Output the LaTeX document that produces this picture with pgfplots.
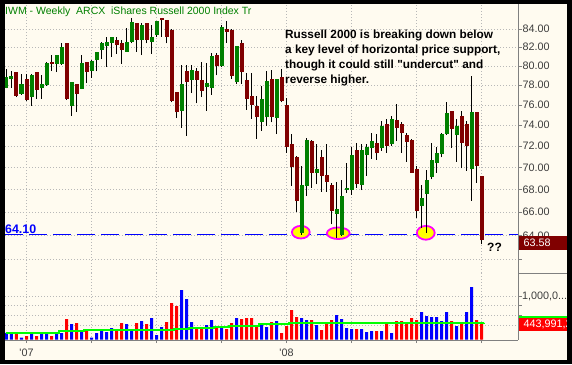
\documentclass[border=0pt]{standalone}
\usepackage{fontspec}
\setmainfont{Liberation Sans}[Ligatures=TeXOff]
\usepackage{pgfplots}
\usepackage{pgfplotstable}
\pgfplotsset{compat=1.18}
\definecolor{cream}{HTML}{FFFBF0}
\definecolor{upgreen}{HTML}{008000}
\definecolor{dnred}{HTML}{800000}
\definecolor{volblue}{HTML}{0000FF}
\definecolor{volred}{HTML}{FF0000}
\definecolor{ringmag}{HTML}{FF00FF}
\definecolor{ringyel}{HTML}{FFFF00}
\definecolor{magreen}{HTML}{00FF00}
\definecolor{gridgray}{HTML}{B8B8B8}
\definecolor{axgray}{HTML}{808080}
\definecolor{lblgray}{HTML}{3C3C3C}
\definecolor{suppblue}{HTML}{0000FF}

\pgfplotstableread{
i O H L C
0 77.75 79.73 77.70 78.85
1 78.65 79.45 77.75 78.93
2 79.37 79.40 76.79 76.96
3 77.13 79.20 77.06 78.16
4 78.68 79.20 76.45 76.52
5 76.79 79.20 75.95 79.03
6 79.37 79.40 76.62 77.54
7 77.70 79.03 76.62 78.16
8 77.99 80.43 77.95 80.33
9 80.43 81.15 79.48 80.26
10 80.26 81.20 79.37 81.15
11 80.19 82.42 80.15 82.05
12 82.42 82.45 76.52 76.62
13 75.95 78.35 74.94 78.33
14 78.09 78.16 75.28 77.13
15 77.65 81.15 77.60 80.33
16 80.43 80.45 78.24 79.37
17 79.48 80.62 78.80 80.55
18 80.62 81.51 79.45 81.51
19 81.69 82.60 80.69 82.49
20 82.13 83.15 79.90 82.60
21 82.49 83.15 80.97 83.08
22 82.78 83.15 81.30 82.24
23 82.42 82.78 80.26 81.69
24 81.51 84.08 81.51 82.60
25 82.60 85.20 82.42 84.82
26 84.70 84.70 81.51 82.78
27 82.78 84.64 81.15 84.45
28 84.64 84.70 82.42 82.78
29 82.60 84.45 81.30 83.15
30 83.34 84.93 83.15 84.93
31 85.20 85.20 83.15 84.95
32 85.00 85.00 82.42 83.15
33 83.89 83.95 76.28 76.45
34 77.30 77.30 74.70 75.27
35 75.44 80.08 73.76 78.09
36 79.48 80.08 72.98 78.33
37 78.56 80.08 77.20 79.63
38 79.45 79.80 76.18 78.56
39 78.53 80.43 76.79 77.47
40 77.83 80.33 75.44 78.24
41 77.75 81.33 77.06 81.04
42 81.15 81.40 79.03 79.98
43 79.98 84.45 79.90 84.26
44 83.97 84.93 82.49 83.70
45 83.89 83.95 78.68 78.93
46 78.33 82.15 78.16 82.13
47 82.49 82.78 78.16 79.37
48 78.51 79.27 75.51 76.62
49 76.96 79.27 74.62 76.05
50 75.95 76.96 72.69 74.84
51 74.28 77.90 73.47 76.62
52 74.77 79.48 73.96 78.44
53 78.68 79.56 74.28 74.84
54 74.71 78.70 73.15 78.68
55 78.85 79.73 76.28 76.38
56 76.05 76.72 71.38 71.93
57 72.19 73.15 68.30 70.05
58 70.98 71.08 65.98 66.98
59 64.22 70.15 64.08 68.39
60 68.30 72.75 67.40 72.57
61 72.50 72.55 68.15 69.52
62 69.52 72.20 68.46 69.83
63 70.92 71.62 67.80 69.23
64 69.30 72.22 67.80 68.70
65 68.39 68.62 64.95 66.10
66 65.87 68.70 63.78 66.25
67 64.08 68.83 63.95 67.42
68 67.97 70.37 67.72 68.15
69 67.93 71.88 67.50 71.17
70 71.62 72.28 68.15 68.46
71 68.39 72.20 67.93 71.62
72 71.17 72.20 69.23 71.93
73 71.77 73.30 70.77 72.50
74 72.33 73.15 70.71 71.30
75 71.77 74.45 71.55 73.96
76 74.12 74.62 71.38 72.03
77 72.19 74.94 72.03 74.62
78 74.52 76.12 72.50 73.74
79 74.12 74.35 71.38 73.21
80 73.08 73.30 70.54 72.43
81 72.57 72.70 69.52 69.52
82 69.83 70.15 65.50 66.10
83 66.54 68.39 64.65 67.27
84 67.63 69.75 64.22 68.83
85 69.12 72.33 68.92 70.68
86 70.45 71.91 69.52 71.38
87 71.24 73.30 70.92 73.15
88 73.15 76.28 73.08 75.17
89 75.37 75.40 71.80 73.67
90 73.10 74.62 70.54 73.89
91 74.94 75.44 69.92 72.33
92 74.12 74.45 69.68 72.03
93 69.83 78.93 66.98 75.27
94 75.27 75.30 68.62 70.15
95 69.21 69.25 63.25 63.58
}\ohlc

\pgfplotstableread{
i v up
0 167 1
1 167 1
2 167 0
3 50 1
4 83 0
5 183 1
6 83 0
7 183 1
8 158 1
9 83 0
10 158 1
11 158 1
12 508 0
13 383 1
14 408 0
15 208 1
16 208 0
17 50 1
18 158 1
19 233 1
20 183 1
21 283 1
22 258 0
23 408 0
24 383 1
25 208 1
26 408 0
27 458 1
28 383 0
29 533 1
30 108 1
31 308 1
32 433 0
33 908 0
34 833 0
35 1233 1
36 1008 1
37 433 1
38 283 0
39 258 0
40 358 1
41 483 1
42 333 0
43 283 1
44 258 0
45 408 0
46 533 1
47 508 0
48 533 0
49 533 0
50 358 0
51 408 1
52 308 1
53 433 0
54 458 1
55 158 0
56 333 0
57 733 0
58 558 0
59 533 1
60 483 1
61 483 0
62 358 1
63 233 0
64 408 0
65 483 0
66 608 1
67 508 1
68 283 1
69 258 1
70 258 0
71 258 1
72 183 1
73 208 1
74 208 0
75 208 1
76 383 0
77 158 1
78 458 0
79 458 0
80 408 0
81 533 0
82 483 0
83 683 1
84 583 1
85 558 1
86 558 1
87 458 1
88 683 1
89 458 0
90 333 1
91 433 0
92 683 1
93 1308 1
94 483 0
95 433 0
}\vol

\pgfplotsset{
  chartbase/.style={
    scale only axis, anchor=south west, width=513pt,
    xmin=-0.3, xmax=102.3,
    axis line style={draw=none},
    xtick={4,17,30,43,56,69,82,95},
    grid=major,
    major grid style={draw=gridgray, line width=0.8pt, dash pattern=on 0.9pt off 2.1pt},
    tick align=outside,
    ytick pos=right, yticklabel pos=right,
    ytick style={draw=axgray, line width=0.8pt},
    yticklabel style={font=\fontsize{10.8}{12}\selectfont, text=lblgray, anchor=west, inner sep=0pt, xshift=0.5pt},
  },
  candle/.style={draw=none, no marks, forget plot,
    error bars/.cd, y dir=plus, y explicit, error mark=none,
    error bar style={draw=#1, line width=4pt, line cap=butt}},
}

\begin{document}
\begin{tikzpicture}
\fill[black] (0pt,0pt) rectangle (572pt,364pt);
\useasboundingbox (0pt,0pt) rectangle (572pt,364pt);
\fill[cream] (5pt,4pt) rectangle (567pt,360pt);

% ---------------- price panel ----------------
\begin{axis}[chartbase, at={(5pt,91pt)}, height=269pt,
  ymode=log, ymin=60.92, ymax=86.81,
  xticklabels={}, xtick style={draw=none},
  ytick={62,64,66,68,70,72,74,76,78,80,82,84},
  yticklabels={,64.00,66.00,68.00,70.00,72.00,74.00,76.00,78.00,80.00,82.00,84.00},
  major tick length=4pt]
\addplot[suppblue, line width=1pt, dash pattern=on 17.7pt off 6.3pt, forget plot]
  coordinates {(-0.3,64.1) (102.3,64.1)};
% highlight rings around the three lows (drawn beneath the candles)
\draw[fill=ringyel, draw=ringmag, line width=1.8pt]
  (axis cs:58.86,64.28) ellipse [x radius=8.9pt, y radius=6.3pt];
\draw[fill=ringyel, draw=ringmag, line width=1.8pt]
  (axis cs:66.36,64.19) ellipse [x radius=11.4pt, y radius=5.8pt];
\draw[fill=ringyel, draw=ringmag, line width=1.8pt]
  (axis cs:83.86,64.23) ellipse [x radius=8.9pt, y radius=6.9pt];
% wicks (low to high)
\addplot[draw=none, no marks, forget plot,
  error bars/.cd, y dir=plus, y explicit, error mark=none,
  error bar style={draw=black, line width=1.8pt, line cap=butt}]
  table[x=i, y=L, y error expr=\thisrow{H}-\thisrow{L}] {\ohlc};
% up bodies (open to close)
\addplot[candle=upgreen]
  table[x expr={\thisrow{C}>=\thisrow{O} ? \thisrow{i} : nan}, y=O,
        y error expr=\thisrow{C}-\thisrow{O}] {\ohlc};
% down bodies (close to open)
\addplot[candle=dnred]
  table[x expr={\thisrow{C}<\thisrow{O} ? \thisrow{i} : nan}, y=C,
        y error expr=\thisrow{O}-\thisrow{C}] {\ohlc};
\end{axis}

% ---------------- volume panel ----------------
\begin{axis}[chartbase, at={(5pt,24.5pt)}, height=66.5pt,
  ymin=0, ymax=1662,
  xticklabels={'07,,,,'08,,,},
  xtick pos=left,
  xtick style={draw=axgray, line width=0.8pt},
  xticklabel style={font=\fontsize{10.8}{12}\selectfont, text=lblgray, anchor=north, inner sep=0pt, yshift=-5.3pt},
  major tick length=3.5pt,
  ytick={355,595,845,1070}, yticklabels={,,,{1,000,0.{}.{}.}}]
\addplot[ybar, bar width=3pt, bar shift=0pt, fill=volblue, draw=none, forget plot]
  table[x=i, y expr={\thisrow{up}>0.5 ? \thisrow{v} : nan}] {\vol};
\addplot[ybar, bar width=3pt, bar shift=0pt, fill=volred, draw=none, forget plot]
  table[x=i, y expr={\thisrow{up}<0.5 ? \thisrow{v} : nan}] {\vol};
\addplot[magreen, line width=2pt, const plot, forget plot] coordinates {
  (0,167) (10.5,200) (15.5,225) (33.5,258) (36.5,283) (41.5,317)
  (44.5,342) (50.5,383) (56.5,400) (63.5,417) (95.5,420)};
\end{axis}

% ---------------- annotations ----------------
\begin{scope}[x=1pt,y=1pt]
\node[anchor=base west, inner sep=0pt, text=upgreen, font=\fontsize{10.5}{12}\selectfont]
  at (5,349) {IWM - Weekly\ \ ARCX\ \ iShares Russell 2000 Index Tr};
\begin{scope}[every node/.style={anchor=base west, inner sep=0pt, font=\bfseries\fontsize{11.8}{14}\selectfont}]
\node at (285,325.7) {Russell 2000 is breaking down below};
\node at (285,310.7) {a key level of horizontal price support,};
\node at (285,295.7) {though it could still "undercut" and};
\node at (285,280.7) {reverse higher.};
\end{scope}
\node[anchor=base west, inner sep=0pt, text=suppblue, font=\bfseries\fontsize{12.4}{14}\selectfont]
  at (5,130.7) {64.10};
\node[anchor=base west, inner sep=0pt, font=\bfseries\fontsize{12}{14}\selectfont]
  at (487,112) {??};
\fill[dnred] (518,114) rectangle (572,128);
\node[anchor=base west, inner sep=0pt, text=white, font=\fontsize{10.8}{12}\selectfont]
  at (523.5,117.3) {63.58};
\fill[volred] (518,33) rectangle (572,46.7);
\fill[magreen] (518,46.5) rectangle (572,48.5);
\node[anchor=base west, inner sep=0pt, text=white, font=\fontsize{10.8}{12}\selectfont]
  at (523.3,36.7) {443,991,2};
\draw[axgray, line width=0.8pt] (518,24) -- (518,360);
\draw[axgray, line width=0.8pt] (5,24) -- (518,24);
\draw[axgray, line width=0.8pt] (518,90.7) -- (567,90.7);
\fill[black] (0,0) rectangle (5,364);
\fill[black] (567,0) rectangle (572,364);
\fill[black] (0,0) rectangle (572,4);
\fill[black] (0,360) rectangle (572,364);
\end{scope}
\end{tikzpicture}
\end{document}
